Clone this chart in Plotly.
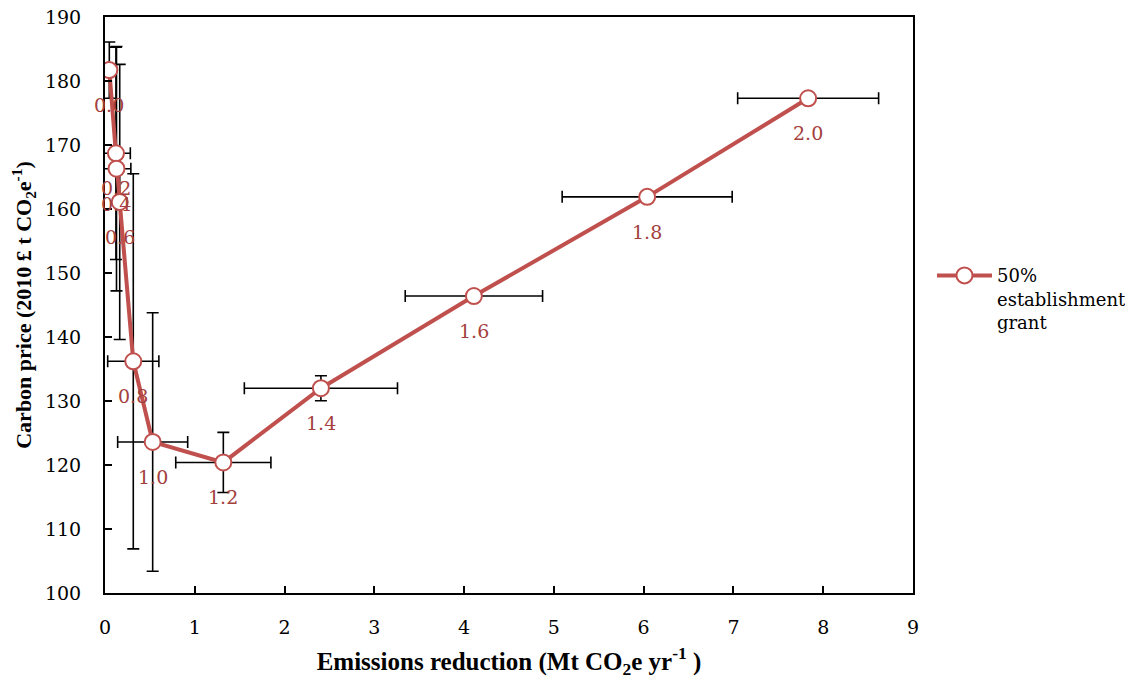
import plotly.graph_objects as go

labels = ["0.0", "0.2", "0.4", "0.6", "0.8", "1.0", "1.2", "1.4", "1.6", "1.8", "2.0"]
reduction = [0.048, 0.122, 0.128, 0.164, 0.315, 0.531, 1.318, 2.405, 4.109, 6.039, 7.832]
price = [181.7, 168.7, 166.3, 161.1, 136.2, 123.6, 120.4, 132.0, 146.4, 161.9, 177.3]
price_err = [4.4, 16.6, 19.1, 21.5, 29.3, 20.2, 4.7, 1.95, 0.0, 0.0, 0.0]
reduction_err = [0.0, 0.16, 0.16, 0.0, 0.285, 0.39, 0.53, 0.853, 0.765, 0.947, 0.785]
series_name = "50%<br>establishment<br>grant"

RED = "#C0504D"
LABEL = "#A3403D"
FONT = "DejaVu Serif"
TFONT = "Liberation Serif"

fig = go.Figure()
fig.add_trace(go.Scatter(
    x=reduction, y=price, mode="lines+markers", name=series_name,
    line=dict(color=RED, width=4),
    marker=dict(size=16, color="white", line=dict(color=RED, width=2)),
    error_y=dict(type="data", array=price_err, color="black", thickness=1.6, width=6),
    error_x=dict(type="data", array=reduction_err, color="black", thickness=1.6, width=6),
))

for xv, yv, t in zip(reduction, price, labels):
    fig.add_annotation(x=xv, y=yv, text=t, showarrow=False, yshift=-35,
                       font=dict(family=FONT, size=19, color=LABEL))

fig.update_layout(
    width=1125, height=671,
    margin=dict(l=97, r=220, t=9, b=86, autoexpand=False),
    plot_bgcolor="white", paper_bgcolor="white",
    font=dict(family=FONT, size=19, color="black"),
    showlegend=True,
    legend=dict(x=1.0235, y=0.583, xanchor="left", yanchor="top",
                valign="top", itemwidth=55,
                font=dict(family=FONT, size=18, color="black"),
                bgcolor="rgba(0,0,0,0)"),
    xaxis=dict(range=[0, 9], dtick=1, tick0=0, showgrid=False, zeroline=False,
               showline=True, linecolor="black", linewidth=2, mirror=True,
               ticks="inside", ticklen=7, tickwidth=1.5, tickcolor="black",
               ticklabelstandoff=16, automargin=False, ticklabeloverflow="allow",
               tickfont=dict(family=FONT, size=19),
               title=dict(text="<b>Emissions reduction (Mt CO<sub>2</sub>e yr<sup>-1</sup> )</b>",
                          font=dict(family=TFONT, size=25), standoff=19)),
    yaxis=dict(range=[100, 190], dtick=10, tick0=100, showgrid=False, zeroline=False,
               showline=True, linecolor="black", linewidth=2, mirror=True,
               ticks="inside", ticklen=7, tickwidth=1.5, tickcolor="black",
               ticklabelstandoff=18, automargin=False, ticklabeloverflow="allow",
               tickfont=dict(family=FONT, size=19),
               title=dict(text="<b>Carbon price (2010 £ t CO<sub>2</sub>e<sup>-1</sup>)</b>",
                          font=dict(family=TFONT, size=22), standoff=14)),
)

fig.write_html("out.html")
